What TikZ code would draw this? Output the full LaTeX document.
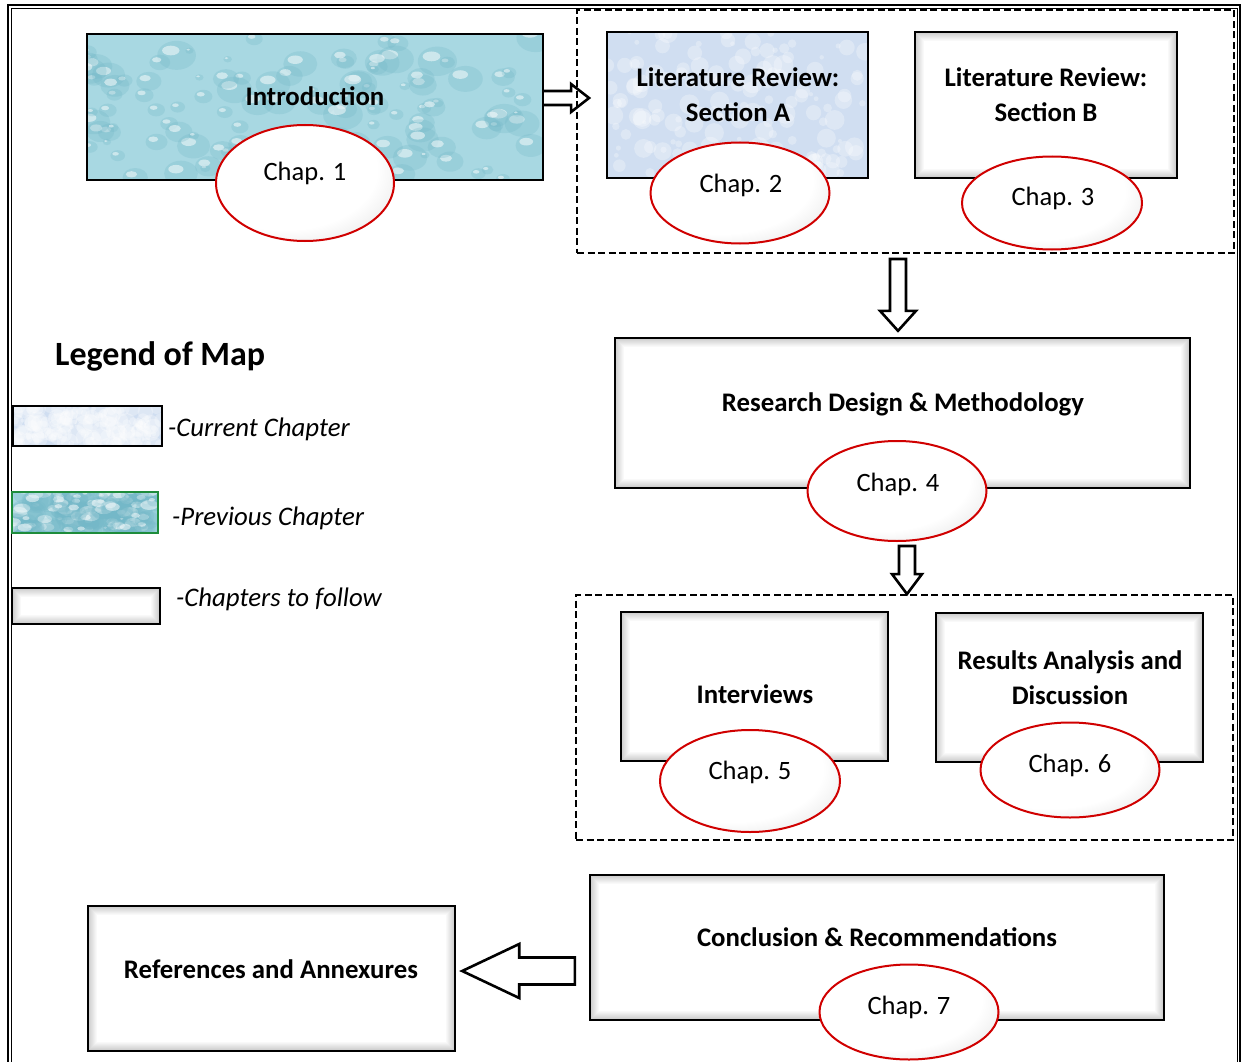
\documentclass[tikz,border=0pt]{standalone}
\usepackage{fontspec}
\setmainfont{Carlito}
\usetikzlibrary{shapes.geometric,calc}

\definecolor{dropbase}{HTML}{A8D8E2}
\definecolor{dropdark}{HTML}{74B8C8}
\definecolor{curfill}{HTML}{D0DEF1}
\definecolor{chapred}{HTML}{D00000}
\definecolor{prevgreen}{HTML}{1E8C3C}

% white ellipse with a grey rim towards the lower right
\pgfdeclareradialshading{chapball}{\pgfpoint{-12bp}{12bp}}{color(0bp)=(white); color(26bp)=(white); color(42bp)=(black!16); color(50bp)=(black!42)}

\pgfdeclarelayer{back}
\pgfsetlayers{back,main}

% hollow block arrow from #1 to #2: half shaft width #3, head length #4, half head width #5
\newcommand{\blockarrow}[5]{%
  \coordinate (#1h) at ($(#2)!#4!(#1)$);
  \draw[barrow] ($(#1)!#3!90:(#2)$) -- ($(#1h)!#3!90:(#2)$) -- ($(#1h)!#5!90:(#2)$)
    -- (#2) -- ($(#1h)!#5!-90:(#2)$) -- ($(#1h)!#3!-90:(#2)$) -- ($(#1)!#3!-90:(#2)$) -- cycle;
}

\tikzset{
  box/.style={rectangle, draw=black, line width=2.4pt, fill=white, inner sep=0pt},
  glow/.style={path picture={
    \foreach \k [evaluate=\k as \op using 0.18*(9-\k)/8] in {1,...,8}
      \draw[black, opacity=\op, line width=1.3pt]
        ([shift={(\k*1.1pt,\k*1.1pt)}]path picture bounding box.south west) rectangle
        ([shift={(-\k*1.1pt,-\k*1.1pt)}]path picture bounding box.north east);
  }},
  drops/.style={fill=dropbase, path picture={
    \pgfmathsetseed{#1}
    \foreach \i in {1,...,120}{
      \pgfmathsetmacro\px{rnd}\pgfmathsetmacro\py{rnd}\pgfmathsetmacro\rr{4+16*rnd}
      \path let \p1=(path picture bounding box.south west), \p2=(path picture bounding box.north east) in
        coordinate (dropc) at ({\x1+\px*(\x2-\x1)}, {\y1+\py*(\y2-\y1)});
      \fill[dropdark, opacity=.28] (dropc) ellipse ({\rr*1pt} and {0.75*\rr*1pt});
      \fill[white, opacity=.5] ($(dropc)+({-0.3*\rr*1pt},{0.25*\rr*1pt})$) ellipse ({0.45*\rr*1pt} and {0.25*\rr*1pt});
    }
  }},
  mottle/.style={fill=curfill, path picture={
    \pgfmathsetseed{#1}
    \foreach \i in {1,...,160}{
      \pgfmathsetmacro\px{rnd}\pgfmathsetmacro\py{rnd}\pgfmathsetmacro\rr{2+8*rnd}
      \path let \p1=(path picture bounding box.south west), \p2=(path picture bounding box.north east) in
        coordinate (motc) at ({\x1+\px*(\x2-\x1)}, {\y1+\py*(\y2-\y1)});
      \fill[white, opacity=.28] (motc) circle ({\rr*1pt});
    }
  }},
  boxtext/.style={font=\bfseries\fontsize{26.8}{35}\selectfont, align=center, inner sep=0pt},
  chap/.style={ellipse, draw=chapred, line width=2pt, shade, shading=chapball, inner sep=0pt},
  chaptext/.style={font=\fontsize{26.5}{30}\selectfont, inner sep=0pt},
  group/.style={rectangle, draw=black, line width=1.9pt, dash pattern=on 7pt off 3.5pt, inner sep=0pt},
  barrow/.style={draw=black, line width=2.6pt, fill=white, line join=miter},
  legtext/.style={font=\itshape\fontsize{26.8}{30}\selectfont, anchor=west, inner sep=0pt},
}

\begin{document}
\begin{tikzpicture}[x=1pt,y=-1pt]
\useasboundingbox (0,0) rectangle (1242,1062);
\clip (0,0) rectangle (1242,1062);

% page frame (double rule)
\draw[line width=1.8pt] (8,5) rectangle (1240,1090);
\draw[line width=0.8pt] (11,8) rectangle (1237,1090);

% dashed groupings
\node[group, minimum width=657pt, minimum height=243pt] (grpA) at (905.5,131.5) {};
\node[group, minimum width=657pt, minimum height=245pt] (grpB) at (904.5,717.5) {};

% chapter boxes
\node[box, drops=11, minimum width=456pt, minimum height=146pt] (intro) at (315,107) {};
\node[box, mottle=5, minimum width=261pt, minimum height=146pt] (litA) at (737.5,105) {};
\node[box, glow, minimum width=262pt, minimum height=146pt] (litB) at (1046,105) {};
\node[box, glow, minimum width=575pt, minimum height=150pt] (design) at (902.5,413) {};
\node[box, glow, minimum width=267pt, minimum height=149pt] (interv) at (754.5,686.5) {};
\node[box, glow, minimum width=267pt, minimum height=149pt] (results) at (1069.5,687.5) {};
\node[box, glow, minimum width=574pt, minimum height=145pt] (concl) at (877,947.5) {};
\node[box, glow, minimum width=367pt, minimum height=145pt] (refs) at (271.5,978.5) {};

% box titles
\node[boxtext] (introT) at (315,96) {Introduction};
\node[boxtext] (litAT) at (738,94.5) {Literature Review:\\Section A};
\node[boxtext] (litBT) at (1046,94.5) {Literature Review:\\Section B};
\node[boxtext] (designT) at (903,404) {Research Design \& Methodology};
\node[boxtext] (intervT) at (755,694) {Interviews};
\node[boxtext] (resultsT) at (1070,677.5) {Results Analysis and\\Discussion};
\node[boxtext] (conclT) at (877,937) {Conclusion \& Recommendations};
\node[boxtext] (refsT) at (271,969) {References and Annexures};

% chapter ellipses
\node[chap, minimum width=178pt, minimum height=116pt] (c1) at (305,183) {};
\node[chap, minimum width=179pt, minimum height=101pt] (c2) at (740,193) {};
\node[chap, minimum width=180pt, minimum height=93pt] (c3) at (1052,203) {};
\node[chap, minimum width=179pt, minimum height=100pt] (c4) at (897,491) {};
\node[chap, minimum width=180pt, minimum height=102pt] (c5) at (750,781) {};
\node[chap, minimum width=179pt, minimum height=95pt] (c6) at (1070,770) {};
\node[chap, minimum width=179pt, minimum height=95pt] (c7) at (909,1012) {};

\node[chaptext] (c1T) at (305,173) {Chap. 1};
\node[chaptext] (c2T) at (741,185) {Chap. 2};
\node[chaptext] (c3T) at (1053,198) {Chap. 3};
\node[chaptext] (c4T) at (898,484) {Chap. 4};
\node[chaptext] (c5T) at (750,772) {Chap. 5};
\node[chaptext] (c6T) at (1070,765) {Chap. 6};
\node[chaptext] (c7T) at (909,1007) {Chap. 7};

% flow arrows
\begin{pgfonlayer}{back}
\coordinate (ra0) at ($(intro.east)+(-2,-9)$);
\coordinate (ra1) at ($(grpA.west)+(13,-33.5)$);
\blockarrow{ra0}{ra1}{7pt}{18pt}{14pt}
\coordinate (da0) at ($(grpA.south)+(-7.5,5)$);
\coordinate (da1) at ($(design.north)+(-4.5,-6)$);
\blockarrow{da0}{da1}{8pt}{20pt}{18pt}
\coordinate (db0) at ($(c4.south)+(10,4)$);
\coordinate (db1) at ($(grpB.north)+(2.5,0)$);
\blockarrow{db0}{db1}{8pt}{20pt}{15pt}
\coordinate (la0) at ($(concl.west)+(-14,23.5)$);
\coordinate (la1) at ($(refs.east)+(6,-7.5)$);
\blockarrow{la0}{la1}{13.5pt}{57pt}{27pt}
\end{pgfonlayer}

% legend
\node[anchor=west, inner sep=0pt, font=\bfseries\fontsize{34}{40}\selectfont] (legT) at (55,356) {Legend of Map};
\node[box, mottle=9, minimum width=149pt, minimum height=40pt] (leg1) at (87.5,426) {};
\node[box, drops=3, draw=prevgreen, line width=1.6pt, minimum width=146pt, minimum height=41pt] (leg2) at (85,512.5) {};
\node[box, glow, minimum width=148pt, minimum height=36pt] (leg3) at (86,606) {};
\node[legtext] (leg1T) at (168,429) {-Current Chapter};
\node[legtext] (leg2T) at (172,518) {-Previous Chapter};
\node[legtext] (leg3T) at (176,599) {-Chapters to follow};
\end{tikzpicture}
\end{document}
